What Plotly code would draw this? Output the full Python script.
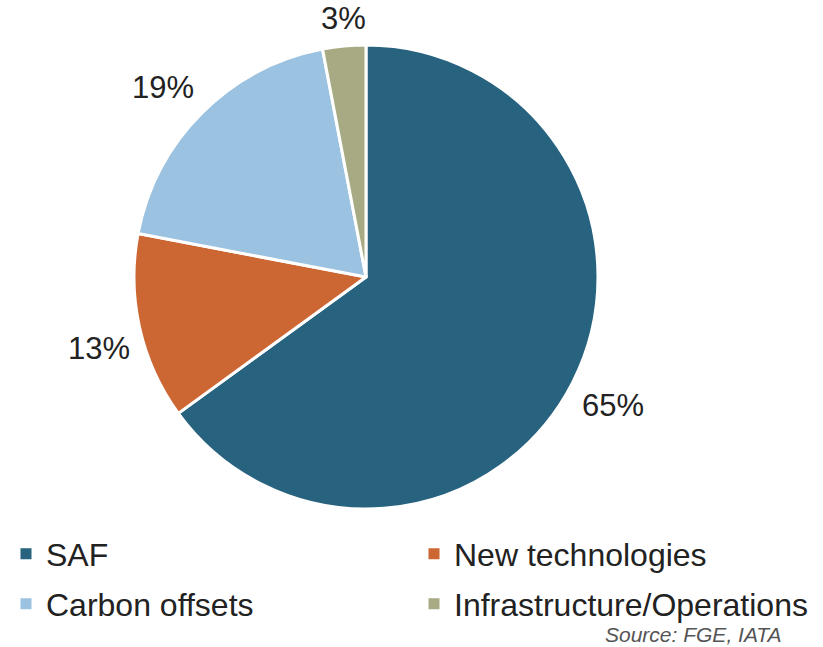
import math
import plotly.graph_objects as go

categories = ["SAF", "New technologies", "Carbon offsets", "Infrastructure/Operations"]
values = [65, 13, 19, 3]
colors = ["#27627F", "#CC6633", "#9BC2E0", "#A8AA84"]
legend_rows = ["legend", "legend", "legend2", "legend2"]
source_text = "Source: FGE, IATA"

W, H = 823, 647
cx, cy, r = 366, 277, 232  # pie center / radius in px
FONT = "Liberation Sans, Arial, sans-serif"

fig = go.Figure()
fig.add_trace(go.Pie(
    labels=categories, values=values, sort=False, direction="clockwise",
    rotation=0, textinfo="none", hoverinfo="label+percent",
    marker=dict(colors=colors, line=dict(color="white", width=3)),
    showlegend=False,
    domain=dict(x=[(cx - r) / W, (cx + r) / W], y=[1 - (cy + r) / H, 1 - (cy - r) / H]),
))

# legend entries
for cat, col, lg in zip(categories, colors, legend_rows):
    fig.add_trace(go.Scatter(
        x=[None], y=[None], mode="markers", name=cat, legend=lg,
        marker=dict(symbol="square", size=11, color=col), showlegend=True,
    ))

# percentage labels outside slices
total = sum(values)
cum = 0
annotations = []
R = 240
for v in values:
    mid = (cum + v / 2) / total * 2 * math.pi
    cum += v
    sx, sy = math.sin(mid), -math.cos(mid)
    px, py = cx + sx * R, cy + sy * R
    xa = "left" if sx > 0.2 else ("right" if sx < -0.2 else "center")
    ya = "top" if sy > 0.1 else ("bottom" if sy < -0.1 else "middle")
    annotations.append(dict(
        x=px / W, y=1 - py / H, xref="paper", yref="paper",
        text=f"{round(v / total * 100)}%", showarrow=False,
        xanchor=xa, yanchor=ya, font=dict(size=31, color="#222222", family=FONT),
    ))

annotations.append(dict(
    x=784 / W, y=1 - 634 / H, xref="paper", yref="paper", text=f"<i>{source_text}</i>",
    showarrow=False, xanchor="right", yanchor="middle",
    font=dict(size=21, color="#555555", family=FONT),
))

leg_common = dict(orientation="h", xanchor="left", yanchor="middle",
                  entrywidth=363, entrywidthmode="pixels",
                  font=dict(size=32, color="#222222", family=FONT),
                  bgcolor="rgba(0,0,0,0)", itemclick=False, itemdoubleclick=False)

fig.update_layout(
    width=W, height=H,
    margin=dict(l=0, r=0, t=0, b=0, autoexpand=False),
    paper_bgcolor="white", plot_bgcolor="white",
    xaxis=dict(visible=False), yaxis=dict(visible=False),
    annotations=annotations,
    legend=dict(x=6 / W, y=1 - 554 / H, **leg_common),
    legend2=dict(x=6 / W, y=1 - 604 / H, **leg_common),
    font=dict(family=FONT),
)

fig.write_html("out.html", config={"displayModeBar": False},
               post_script="document.body.style.margin='0';document.body.style.padding='0';")
